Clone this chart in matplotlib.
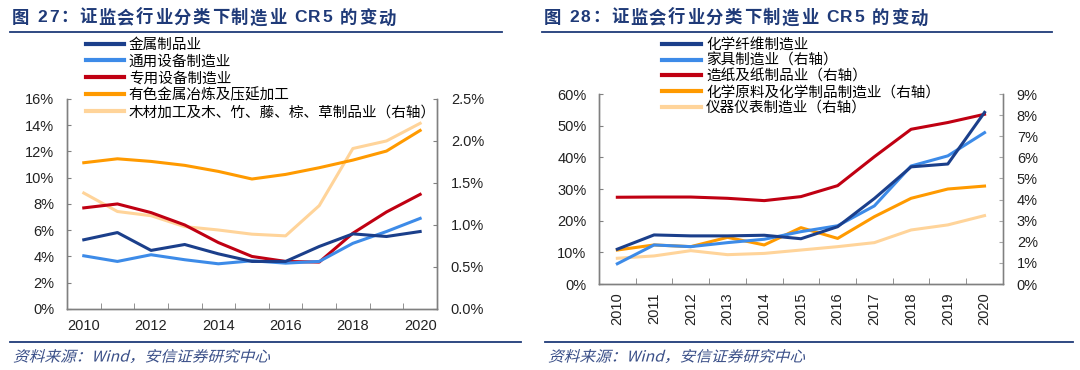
import matplotlib
matplotlib.use("Agg")
import matplotlib.pyplot as plt
from matplotlib.lines import Line2D
from matplotlib.textpath import TextPath
from matplotlib.patches import PathPatch
from matplotlib.font_manager import FontProperties
from matplotlib.transforms import Affine2D
import numpy as np

plt.rcParams['font.family'] = ['Liberation Sans', 'Noto Sans CJK SC', 'DejaVu Sans']

years = [2010, 2011, 2012, 2013, 2014, 2015, 2016, 2017, 2018, 2019, 2020]

# 图27 (左轴 %)
jinshu = [5.27, 5.82, 4.46, 4.91, 4.20, 3.62, 3.62, 4.76, 5.72, 5.52, 5.90]
tongyong = [4.05, 3.62, 4.13, 3.75, 3.44, 3.67, 3.49, 3.62, 5.00, 5.90, 6.90]
zhuanyong = [7.70, 8.00, 7.34, 6.40, 5.06, 4.00, 3.62, 3.57, 5.77, 7.39, 8.73]
youse = [11.14, 11.44, 11.24, 10.94, 10.48, 9.90, 10.25, 10.76, 11.34, 12.03, 13.60]
# 图27 (右轴 %)
mucai = [1.38, 1.16, 1.11, 0.98, 0.94, 0.89, 0.87, 1.23, 1.91, 2.00, 2.21]

# 图28 (左轴 %)
huaxian = [11.0, 15.5, 15.2, 15.2, 15.4, 14.3, 18.1, 27.0, 37.0, 37.9, 54.2]
# 图28 (右轴 %)
jiaju = [0.96, 1.85, 1.77, 1.96, 2.12, 2.48, 2.76, 3.70, 5.59, 6.07, 7.17]
zaozhi = [4.11, 4.12, 4.12, 4.06, 3.95, 4.14, 4.66, 6.03, 7.33, 7.65, 8.04]
huaxue = [1.61, 1.85, 1.77, 2.21, 1.85, 2.67, 2.16, 3.19, 4.06, 4.50, 4.64]
yiqi = [1.22, 1.33, 1.58, 1.39, 1.45, 1.61, 1.77, 1.96, 2.56, 2.80, 3.24]

labels27 = ['金属制品业', '通用设备制造业', '专用设备制造业', '有色金属冶炼及压延加工',
            '木材加工及木、竹、藤、棕、草制品业（右轴）']
labels28 = ['化学纤维制造业', '家具制造业（右轴）', '造纸及纸制品业（右轴）',
            '化学原料及化学制品制造业（右轴）', '仪器仪表制造业（右轴）']

c_dark = '#1B3F8B'
c_blue = '#3D8BE8'
c_red = '#C00012'
c_orange = '#FF9A00'
c_lorange = '#FFD49A'
c_title = '#1F3A78'
colors = [c_dark, c_blue, c_red, c_orange, c_lorange]
lw = 2.2

W, H = 1080, 370
fig = plt.figure(figsize=(10.8, 3.7), dpi=100)
renderer = fig.canvas.get_renderer()


def style_axes(ax, ax2, ylim, yticks, y2lim, y2ticks, yfmt, y2fmt, right_color):
    ax.set_xlim(-0.5, len(years) - 0.5)
    ax.set_ylim(*ylim)
    ax.set_yticks(yticks)
    ax.set_yticklabels([yfmt.format(v) for v in yticks])
    ax2.set_ylim(*y2lim)
    ax2.set_yticks(y2ticks)
    ax2.set_yticklabels([y2fmt.format(v) for v in y2ticks])
    ax.set_xticks(np.arange(-0.5, len(years)), minor=True)
    for a in (ax, ax2):
        a.spines['top'].set_visible(False)
        for s in a.spines.values():
            s.set_color('#808080')
            s.set_linewidth(1.0)
    ax2.spines['right'].set_color(right_color)
    ax.tick_params(axis='y', direction='in', length=3, color='#808080',
                   labelsize=10.5, labelcolor='#222222', pad=9)
    ax2.tick_params(axis='y', direction='in', length=3, color=right_color,
                    labelsize=10.5, labelcolor='#222222', pad=10)
    ax.tick_params(axis='x', which='major', length=0, labelsize=10.5,
                   labelcolor='#222222')
    ax.tick_params(axis='x', which='minor', direction='in', length=4,
                   color='#808080')


def tracked_text(x_px, y_frac, s, track_px, **kw):
    # draw string char by char with a little extra letter spacing
    x = x_px
    for ch in s:
        t = fig.text(x / W, y_frac, ch, va='center', ha='left', **kw)
        x += t.get_window_extent(renderer).width + track_px


def italic_text(x_px, y_px, s, size, color):
    prop = FontProperties(family='Noto Sans CJK SC')
    tp = TextPath((0, 0), s, size=size, prop=prop)
    tr = (Affine2D().skew_deg(14, 0).scale(1.06, 1).translate(x_px, y_px)
          + Affine2D().scale(1 / W, 1 / H) + fig.transFigure)
    fig.add_artist(PathPatch(tp, transform=tr, facecolor=color, edgecolor='none'))


x = np.arange(len(years))

# ---------------- 图27 ----------------
ax1 = fig.add_axes([0.062, 0.165, 0.3426, 0.5676])
ax1b = ax1.twinx()
ax1b.plot(x, mucai, color=c_lorange, lw=lw)
ax1.plot(x, youse, color=c_orange, lw=lw)
ax1.plot(x, zhuanyong, color=c_red, lw=lw)
ax1.plot(x, tongyong, color=c_blue, lw=lw)
ax1.plot(x, jinshu, color=c_dark, lw=lw)
ax1.set_zorder(ax1b.get_zorder() + 1)
ax1.patch.set_visible(False)
style_axes(ax1, ax1b, (0, 16), np.arange(0, 17, 2), (0, 2.5),
           np.arange(0, 2.51, 0.5), '{:.0f}%', '{:.1f}%', '#808080')
ax1.set_xticks(x[::2])
ax1.set_xticklabels([str(y) for y in years[::2]])
ax1.tick_params(axis='x', pad=7)

h1 = [Line2D([], [], color=c, lw=3) for c in colors]
fig.legend(h1, labels27, loc='upper left', bbox_to_anchor=(0.0795, 0.898), frameon=False,
           fontsize=10.5, handlelength=2.6, handletextpad=0.35, labelspacing=0.19,
           borderaxespad=0, borderpad=0)

# ---------------- 图28 ----------------
ax2 = fig.add_axes([0.5546, 0.2324, 0.374, 0.5135])
ax2b = ax2.twinx()
ax2b.plot(x, yiqi, color=c_lorange, lw=lw)
ax2b.plot(x, huaxue, color=c_orange, lw=lw)
ax2b.plot(x, zaozhi, color=c_red, lw=lw)
ax2b.plot(x, jiaju, color=c_blue, lw=lw)
ax2.plot(x, huaxian, color=c_dark, lw=lw)
ax2.set_zorder(ax2b.get_zorder() + 1)
ax2.patch.set_visible(False)
style_axes(ax2, ax2b, (0, 60), np.arange(0, 61, 10), (0, 9),
           np.arange(0, 10, 1), '{:.0f}%', '{:.0f}%', '#A6A6A6')
ax2.set_xticks(x)
ax2.set_xticklabels([str(y) for y in years], rotation=90)
ax2.tick_params(axis='x', pad=6)

h2 = [Line2D([], [], color=c, lw=3) for c in colors]
fig.legend(h2, labels28, loc='upper left', bbox_to_anchor=(0.6125, 0.898), frameon=False,
           fontsize=10.5, handlelength=2.7, handletextpad=0.35, labelspacing=0.12,
           borderaxespad=0, borderpad=0)

# ---------------- 标题与来源 ----------------
for x0, x1, num in ((10, 502, '27'), (542, 1052, '28')):
    tracked_text(x0 + 2, 0.952, '图 ' + num + '：证监会行业分类下制造业 CR5 的变动', 1.6,
                 fontsize=12.5, fontweight='bold', color=c_title)
    fig.add_artist(Line2D([x0 / W, x1 / W], [0.9135, 0.9135], color=c_title, lw=1.3))

for x0, x1 in ((10, 521), (545, 1073)):
    fig.add_artist(Line2D([x0 / W, x1 / W], [0.0765, 0.0765], color=c_title, lw=1.3))
    italic_text(x0 + 3, 8.5, '资料来源：Wind，安信证券研究中心', 14.8, '#3A4F88')

fig.savefig('out.png', dpi=100)
